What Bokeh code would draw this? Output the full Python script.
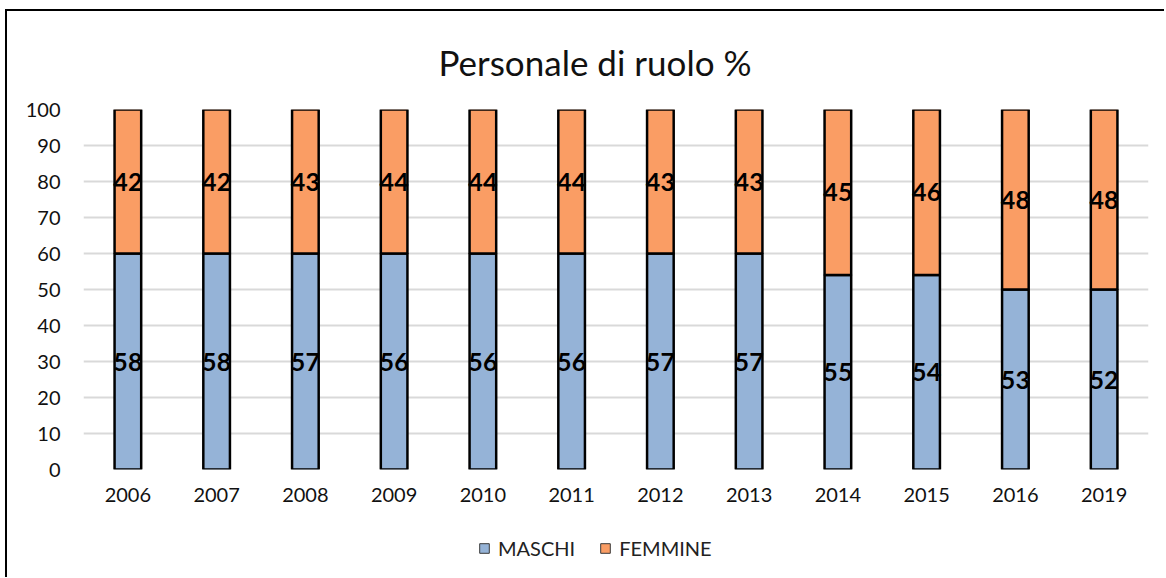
from bokeh.plotting import figure
from bokeh.layouts import column
from bokeh.models import ColumnDataSource, FactorRange, Legend, LegendItem, Range1d, FixedTicker
from bokeh.core.properties import value
from bokeh.embed import file_html
from bokeh.resources import INLINE

years = ["2006", "2007", "2008", "2009", "2010", "2011", "2012", "2013", "2014", "2015", "2016", "2019"]
maschi_bar = [60, 60, 60, 60, 60, 60, 60, 60, 54, 54, 50, 50]
femmine_bar = [40, 40, 40, 40, 40, 40, 40, 40, 46, 46, 50, 50]
maschi_lbl = ["58", "58", "57", "56", "56", "56", "57", "57", "55", "54", "53", "52"]
femmine_lbl = ["42", "42", "43", "44", "44", "44", "43", "43", "45", "46", "48", "48"]
y_ticks = [0, 10, 20, 30, 40, 50, 60, 70, 80, 90, 100]
series = ["MASCHI", "FEMMINE"]

BLUE = "#95B3D7"
ORANGE = "#FA9D64"
FONT = "Lato"
W = 1157

p = figure(x_range=FactorRange(factors=years, range_padding=0), y_range=Range1d(0, 100),
           width=W, height=500, output_backend="svg", toolbar_location=None,
           min_border_left=76, min_border_right=16, min_border_top=98, min_border_bottom=42)
p.outline_line_color = None
p.background_fill_color = "white"

src = ColumnDataSource(dict(year=years, maschi=maschi_bar, femmine=femmine_bar))
p.vbar_stack(["maschi", "femmine"], x="year", width=0.3, color=[BLUE, ORANGE],
             line_color="black", line_width=2.5, source=src)

m_mid = [h / 2 for h in maschi_bar]
f_mid = [m + f / 2 for m, f in zip(maschi_bar, femmine_bar)]
lsrc = ColumnDataSource(dict(x=years + years, y=m_mid + f_mid, t=maschi_lbl + femmine_lbl))
p.text(x="x", y="y", text="t", source=lsrc, text_font=value(FONT), text_font_style="bold",
       text_font_size="25px", text_align="center", text_baseline="middle", text_color="black")

p.title.text = "Personale di ruolo %"
p.title.align = "left"
p.title.offset = 355
p.title.text_font = FONT
p.title.text_font_size = "35px"
p.title.text_font_style = "normal"
p.title.text_color = "#111"
p.title.standoff = 54

p.xgrid.grid_line_color = None
p.ygrid.grid_line_color = "#D9D9D9"
p.ygrid.grid_line_width = 2
p.yaxis.ticker = FixedTicker(ticks=y_ticks)
for ax in (p.xaxis, p.yaxis):
    ax.axis_line_color = None
    ax.major_tick_line_color = None
    ax.minor_tick_line_color = None
    ax.major_label_text_font = FONT
    ax.major_label_text_font_size = "20px"
    ax.major_label_text_color = "#111"
p.xaxis.major_label_standoff = 12
p.yaxis.major_label_standoff = 17

# legend strip below the chart
lg = figure(width=W, height=66, x_range=Range1d(0, 1), y_range=Range1d(0, 1),
            output_backend="svg", toolbar_location=None,
            min_border=0, min_border_left=0, min_border_right=0, min_border_top=0, min_border_bottom=0)
lg.axis.visible = False
lg.grid.visible = False
lg.outline_line_color = None
dsrc = ColumnDataSource(dict(x=[-5.0], b=[0.0], t=[0.0]))
e1 = lg.vbar(x="x", bottom="b", top="t", width=0.01, source=dsrc,
             fill_color=BLUE, line_color="#3a3a3a", line_width=1)
e2 = lg.vbar(x="x", bottom="b", top="t", width=0.01, source=dsrc,
             fill_color=ORANGE, line_color="#3a3a3a", line_width=1)
legend = Legend(items=[LegendItem(label=series[0], renderers=[e1]),
                       LegendItem(label=series[1], renderers=[e2])],
                orientation="horizontal", location=(395, 17),
                label_text_font=FONT, label_text_font_size="20px", label_text_color="#222",
                glyph_width=12, glyph_height=12, label_standoff=8, spacing=24,
                border_line_color=None, background_fill_alpha=0, padding=0, margin=0)
lg.add_layout(legend, "center")

layout = column(p, lg, spacing=0)
layout.styles = {"margin-left": "5px", "margin-top": "9px",
                 "border-left": "2px solid #000", "border-top": "2px solid #000"}

open("out.html", "w").write(file_html(layout, INLINE))
